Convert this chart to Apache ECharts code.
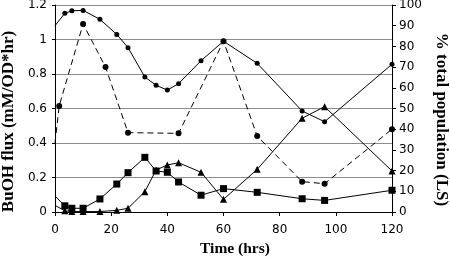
<!DOCTYPE html>
<html>
<head>
<meta charset="utf-8">
<script src="https://cdn.jsdelivr.net/npm/echarts@6/dist/echarts.min.js"></script>
<style>html,body{margin:0;padding:0;background:#fff}#c{width:450px;height:257px}</style>
</head>
<body>
<div id="c"></div>
<script>
// Time points (hrs)
var timesPop = [0, 3.5, 6, 10, 16, 22, 26, 32, 36, 40, 44, 52, 60, 72, 88, 96, 120];
var timesFlux = [0, 1.5, 10, 18, 26, 44, 60, 72, 88, 96, 120];
// % total population (right axis)
var popDiamond = [90, 96, 97.2, 97.4, 93.1, 85.8, 79.4, 65.2, 61.2, 58.9, 62, 73.1, 82.5, 71.8, 48.8, 43.6, 71.4];
var popSquare = [7.7, 3.0, 1.8, 1.8, 6.3, 13.5, 19, 26.4, 19.8, 19.2, 14.5, 8.1, 11.3, 9.5, 6.4, 5.6, 10.5];
var popTriangle = [3.2, 0.6, 0.2, 0.2, 0.2, 0.8, 1.8, 9.8, 20.3, 22.7, 23.8, 19.2, 6.1, 20.6, 45.3, 50.9, 19.8];
// BuOH flux (left axis)
var buohFlux = [0.4, 0.615, 1.09, 0.84, 0.46, 0.456, 0.99, 0.44, 0.176, 0.164, 0.48];

function pairs(xs, ys) {
  return xs.map(function (x, i) {
    var d = { value: [x, ys[i]] };
    if (i === 0) d.symbol = 'none';
    return d;
  });
}

var tickFont = { fontFamily: 'DejaVu Sans', fontSize: 12, color: '#000' };
var nameFont = { fontFamily: 'Liberation Serif', fontWeight: 'bold', color: '#000' };

var chart = echarts.init(document.getElementById('c'), null, { renderer: 'canvas' });
chart.setOption({
  animation: false,
  backgroundColor: '#fff',
  grid: { left: 55, right: 58, top: 5, bottom: 45, containLabel: false, outerBoundsMode: 'none' },
  xAxis: {
    type: 'value', min: 0, max: 120, interval: 20,
    name: 'Time (hrs)', nameLocation: 'middle', nameGap: 26,
    nameTextStyle: Object.assign({ fontSize: 15.5, padding: [0, 0, 0, 23] }, nameFont),
    axisLine: { show: true, lineStyle: { color: '#000', width: 1 } },
    axisTick: { show: true, inside: false, length: 4, lineStyle: { color: '#000' } },
    axisLabel: Object.assign({ margin: 12 }, tickFont),
    splitLine: { show: false }
  },
  yAxis: [
    {
      type: 'value', min: 0, max: 1.2, interval: 0.2, position: 'left',
      name: 'BuOH flux (mM/OD*hr)', nameLocation: 'middle', nameGap: 37, nameRotate: 90,
      nameTextStyle: Object.assign({ fontSize: 17, padding: [0, 26, 0, 0] }, nameFont),
      axisLine: { show: true, lineStyle: { color: '#000', width: 1 } },
      axisTick: { show: true, inside: false, length: 3, lineStyle: { color: '#000' } },
      axisLabel: Object.assign({ margin: 8 }, tickFont),
      splitLine: { show: true, lineStyle: { color: '#8c8c8c', width: 1 } }
    },
    {
      type: 'value', min: 0, max: 100, interval: 10, position: 'right',
      name: '% total population (LS)', nameLocation: 'middle', nameGap: 41, nameRotate: -90,
      nameTextStyle: Object.assign({ fontSize: 17, padding: [0, 0, 0, 22] }, nameFont),
      axisLine: { show: true, lineStyle: { color: '#000', width: 1 } },
      axisTick: { show: true, inside: false, length: 4, lineStyle: { color: '#000' } },
      axisLabel: Object.assign({ margin: 7 }, tickFont),
      splitLine: { show: false }
    }
  ],
  series: [
    {
      type: 'line', yAxisIndex: 1, data: pairs(timesPop, popDiamond),
      symbol: 'circle', symbolSize: 5, showAllSymbol: true,
      lineStyle: { color: '#000', width: 1 }, itemStyle: { color: '#000' }
    },
    {
      type: 'line', yAxisIndex: 1, data: pairs(timesPop, popSquare),
      symbol: 'rect', symbolSize: 7, showAllSymbol: true,
      lineStyle: { color: '#000', width: 1 }, itemStyle: { color: '#000' }
    },
    {
      type: 'line', yAxisIndex: 1, data: pairs(timesPop, popTriangle),
      symbol: 'triangle', symbolSize: 7, showAllSymbol: true,
      lineStyle: { color: '#000', width: 1 }, itemStyle: { color: '#000' }
    },
    {
      type: 'line', yAxisIndex: 0, data: pairs(timesFlux, buohFlux),
      symbol: 'circle', symbolSize: 6, showAllSymbol: true,
      lineStyle: { color: '#000', width: 1, type: [6, 4] }, itemStyle: { color: '#000' }
    }
  ]
});
</script>
</body>
</html>
